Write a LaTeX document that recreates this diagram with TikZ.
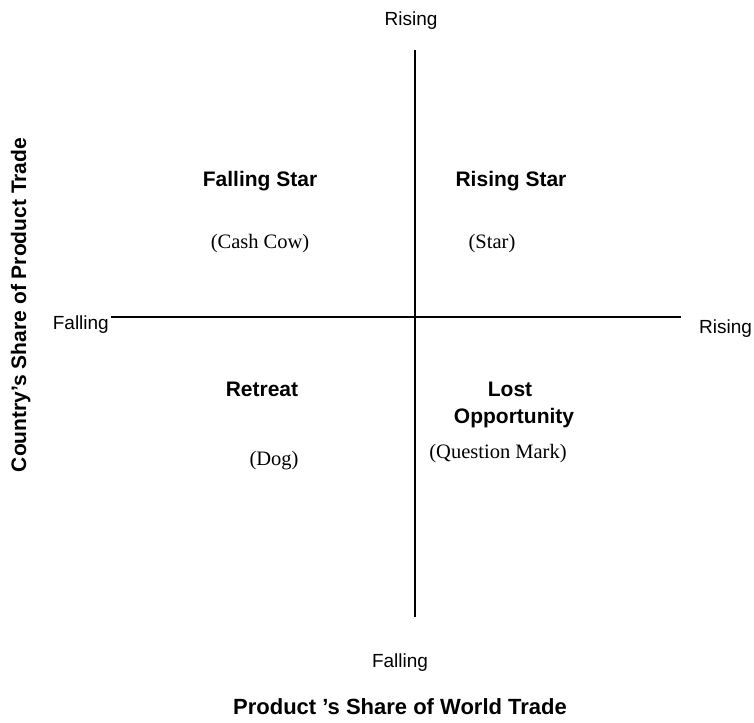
\documentclass[tikz,border=0pt]{standalone}
\usepackage{fontspec}
\setmainfont{Liberation Serif}
\setsansfont{Liberation Sans}
\begin{document}
\begin{tikzpicture}[x=1pt,y=-1pt,
  axislabel/.style={font=\sffamily\fontsize{19}{22}\selectfont, inner sep=0pt},
  title/.style={font=\sffamily\bfseries\fontsize{22}{25}\selectfont, inner sep=0pt},
  ytitlestyle/.style={font=\sffamily\bfseries\fontsize{21}{24}\selectfont, inner sep=0pt},
  quad/.style={font=\sffamily\bfseries\fontsize{21}{27}\selectfont, inner sep=0pt, align=center},
  paren/.style={font=\rmfamily\fontsize{20.5}{24}\selectfont, inner sep=0pt},
  axis/.style={line width=2pt}]
\useasboundingbox (0,0) rectangle (754,722);
% axes
\coordinate (vtop) at (414.5,50);
\coordinate (vbot) at (414.5,617);
\coordinate (hleft) at (111,317);
\coordinate (hright) at (681,317);
\draw[axis] (vtop) -- (vbot);
\draw[axis] (hleft) -- (hright);
% axis end labels
\node[axislabel, anchor=base] (risetop) at (411,26) {Rising};
\node[axislabel, anchor=base] (fallbot) at (400,667) {Falling};
\node[axislabel, anchor=base east] (fallleft) at (109,329) {Falling};
\node[axislabel, anchor=base west] (riseright) at (699,333) {Rising};
% titles
\node[title, anchor=base] (xtitle) at (400,714) {Product ’s Share of World Trade};
\node[ytitlestyle, anchor=base, rotate=90] (ytitle) at (26,305) {Country’s Share of Product Trade};
% quadrants
\node[quad, anchor=base] (fstar) at (260,186) {Falling Star};
\node[paren, anchor=base] (cow) at (260,248) {(Cash Cow)};
\node[quad, anchor=base] (rstar) at (511,186) {Rising Star};
\node[paren, anchor=base] (star) at (492,248) {(Star)};
\node[quad, anchor=base] (retreat) at (262,396) {Retreat};
\node[paren, anchor=base] (dog) at (274,465) {(Dog)};
\node[quad, anchor=base] (lost) at (510,396) {Lost};
\node[quad, anchor=base] (opp) at (514,423) {Opportunity};
\node[paren, anchor=base] (qmark) at (498,458) {(Question Mark)};
\end{tikzpicture}
\end{document}
